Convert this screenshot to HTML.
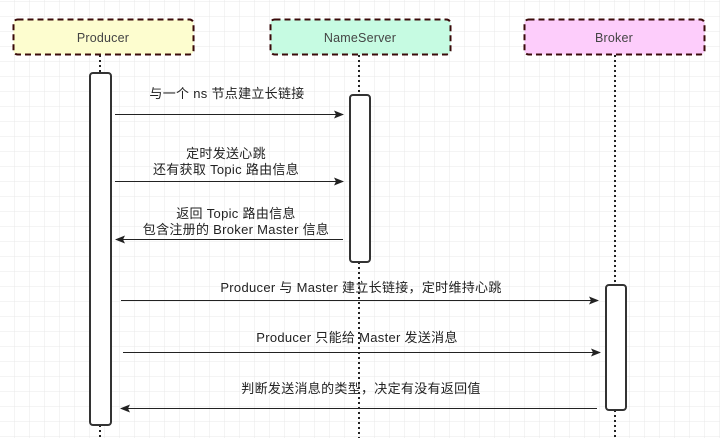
<!DOCTYPE html>
<html><head><meta charset="utf-8"><style>
html,body{margin:0;padding:0;background:#fff}
svg{display:block}
text{font-family:"Liberation Sans","Noto Sans CJK SC",sans-serif;font-size:13px;letter-spacing:0.3px;fill:#222}
text.h{font-size:12.5px;letter-spacing:0.2px;fill:#444}
</style></head><body>
<svg width="720" height="438" viewBox="0 0 720 438" xmlns="http://www.w3.org/2000/svg">
<defs>
<pattern id="g" width="15" height="15" patternUnits="userSpaceOnUse" x="0" y="2">
<path d="M15 0V15M0 15H15" fill="none" stroke="#e8e8e8" stroke-width="1"/>
</pattern>
<marker id="a" markerWidth="10" markerHeight="8" refX="9" refY="4" orient="auto" markerUnits="userSpaceOnUse">
<path d="M0,0 L10,4 L0,8 L2,4 Z" fill="#222"/>
</marker>
</defs>
<rect width="720" height="438" fill="url(#g)"/>
<g stroke="#222" stroke-width="2" stroke-dasharray="2,3">
<line x1="100" y1="55" x2="100" y2="73"/>
<line x1="100" y1="425" x2="100" y2="438"/>
<line x1="359" y1="55" x2="359" y2="95"/>
<line x1="359" y1="262" x2="359" y2="438"/>
<line x1="615" y1="55" x2="615" y2="285"/>
<line x1="615" y1="410" x2="615" y2="438"/>
</g>
<g stroke="#3a0a0a" stroke-width="2" stroke-dasharray="6,4">
<rect x="13.5" y="19.5" width="180" height="35" rx="4" fill="#fdfdcf"/>
<rect x="270.5" y="19.5" width="180" height="35" rx="4" fill="#c6fbe2"/>
<rect x="524.5" y="19.5" width="180" height="35" rx="4" fill="#fdcdfb"/>
</g>
<text class="h" x="103" y="42" text-anchor="middle">Producer</text>
<text class="h" x="360" y="42" text-anchor="middle">NameServer</text>
<text class="h" x="614" y="42" text-anchor="middle">Broker</text>
<g fill="#fff" stroke="#333" stroke-width="2">
<rect x="90" y="73" width="21" height="352" rx="3"/>
<rect x="350" y="95" width="20" height="167" rx="3"/>
<rect x="606" y="285" width="20" height="125" rx="3"/>
</g>
<g stroke="#222" stroke-width="1" marker-end="url(#a)">
<line x1="115" y1="114.5" x2="343" y2="114.5"/>
<line x1="115" y1="181.5" x2="343" y2="181.5"/>
<line x1="343" y1="239.5" x2="116" y2="239.5"/>
<line x1="121" y1="300.5" x2="598" y2="300.5"/>
<line x1="123" y1="352.5" x2="600" y2="352.5"/>
<line x1="597" y1="408.5" x2="121" y2="408.5"/>
</g>
<g text-anchor="middle">
<text x="227" y="98">与一个 ns 节点建立长链接</text>
<text x="226" y="158">定时发送心跳</text>
<text x="226" y="174">还有获取 Topic 路由信息</text>
<text x="236" y="218">返回 Topic 路由信息</text>
<text x="236" y="234">包含注册的 Broker Master 信息</text>
<text x="361" y="292">Producer 与 Master 建立长链接，定时维持心跳</text>
<text x="357" y="342">Producer 只能给 Master 发送消息</text>
<text x="361" y="393">判断发送消息的类型，决定有没有返回值</text>
</g>
</svg>
</body></html>
